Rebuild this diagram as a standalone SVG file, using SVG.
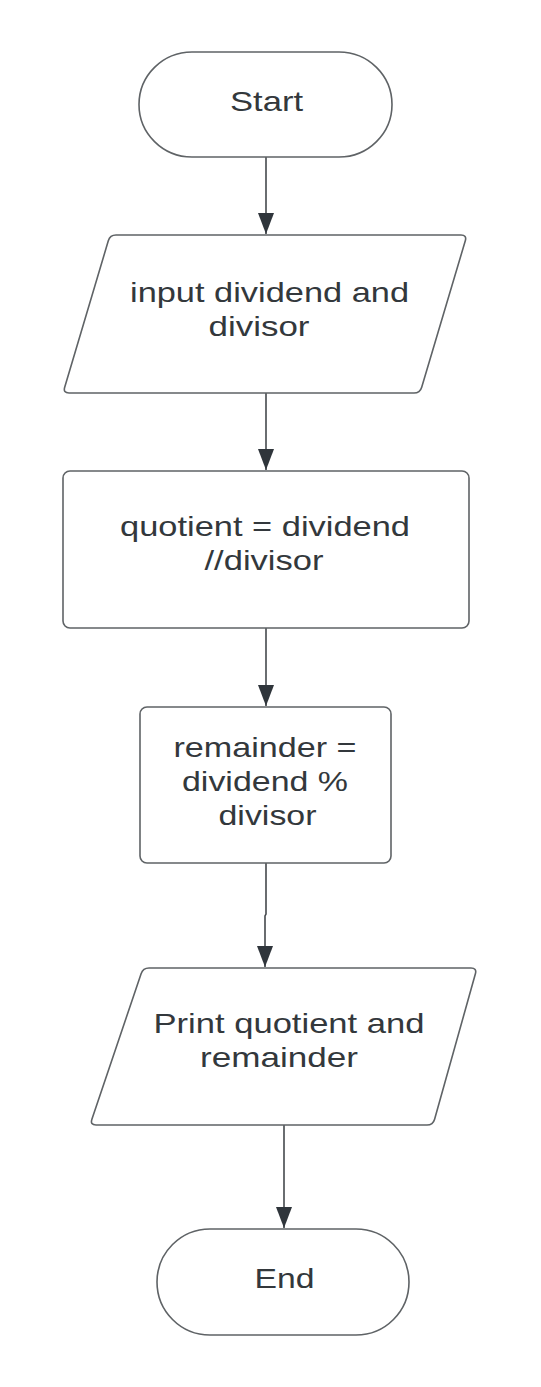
<svg xmlns="http://www.w3.org/2000/svg" width="541" height="1387" viewBox="0 0 541 1387">
<defs>
<style>
.shape{fill:#ffffff;stroke:#5f6366;stroke-width:1.6}
.lbl{font-family:"Liberation Sans",Arial,sans-serif;font-size:28px;fill:#33383c}
.conn{fill:none;stroke:#45494d;stroke-width:1.6}
</style>
<marker id="arr" viewBox="0 0 21 16" refX="21" refY="8" markerWidth="21" markerHeight="16" markerUnits="userSpaceOnUse" orient="auto">
<path d="M0,0 L21,8 L0,16 Z" fill="#2f353b"/>
</marker>
</defs>
<rect width="541" height="1387" fill="#ffffff"/>
<g id="connectors">
<path class="conn" d="M266,157 V234" marker-end="url(#arr)"/>
<path class="conn" d="M266,393 V470" marker-end="url(#arr)"/>
<path class="conn" d="M266,628 V706" marker-end="url(#arr)"/>
<path class="conn" d="M266,863 V914 L265,916 V967" marker-end="url(#arr)"/>
<path class="conn" d="M284,1125 V1228" marker-end="url(#arr)"/>
</g>
<g id="start">
<rect class="shape" x="139" y="52" width="253" height="105" rx="53" ry="52.5"/>
<text class="lbl" x="230" y="111" textLength="73" lengthAdjust="spacingAndGlyphs">Start</text>
</g>
<g id="input">
<path class="shape" d="M116,235 L461,235 Q467,235 465.3,240.8 L421.7,387.2 Q420,393 414,393 L69,393 Q63,393 64.7,387.2 L108.3,240.8 Q110,235 116,235 Z"/>
<text class="lbl" x="130" y="302" textLength="279" lengthAdjust="spacingAndGlyphs">input dividend and</text>
<text class="lbl" x="208.5" y="335.5" textLength="101" lengthAdjust="spacingAndGlyphs">divisor</text>
</g>
<g id="quotient">
<rect class="shape" x="63" y="471" width="406" height="157" rx="7"/>
<text class="lbl" x="120" y="536" textLength="290" lengthAdjust="spacingAndGlyphs">quotient = dividend</text>
<text class="lbl" x="204.5" y="570" textLength="119" lengthAdjust="spacingAndGlyphs">//divisor</text>
</g>
<g id="remainder">
<rect class="shape" x="140" y="707" width="251" height="156" rx="7"/>
<text class="lbl" x="173.5" y="757" textLength="183" lengthAdjust="spacingAndGlyphs">remainder =</text>
<text class="lbl" x="182" y="791" textLength="166" lengthAdjust="spacingAndGlyphs">dividend %</text>
<text class="lbl" x="218.5" y="825" textLength="98" lengthAdjust="spacingAndGlyphs">divisor</text>
</g>
<g id="print">
<path class="shape" d="M149,968 L471,968 Q477,968 475.4,973.8 L434.6,1119.2 Q433,1125 427,1125 L96,1125 Q90,1125 91.9,1119.3 L141.1,973.7 Q143,968 149,968 Z"/>
<text class="lbl" x="153.5" y="1033" textLength="271" lengthAdjust="spacingAndGlyphs">Print quotient and</text>
<text class="lbl" x="200" y="1067" textLength="158" lengthAdjust="spacingAndGlyphs">remainder</text>
</g>
<g id="end">
<rect class="shape" x="157" y="1229" width="252" height="106" rx="53" ry="53"/>
<text class="lbl" x="254.5" y="1288" textLength="60" lengthAdjust="spacingAndGlyphs">End</text>
</g>
</svg>
